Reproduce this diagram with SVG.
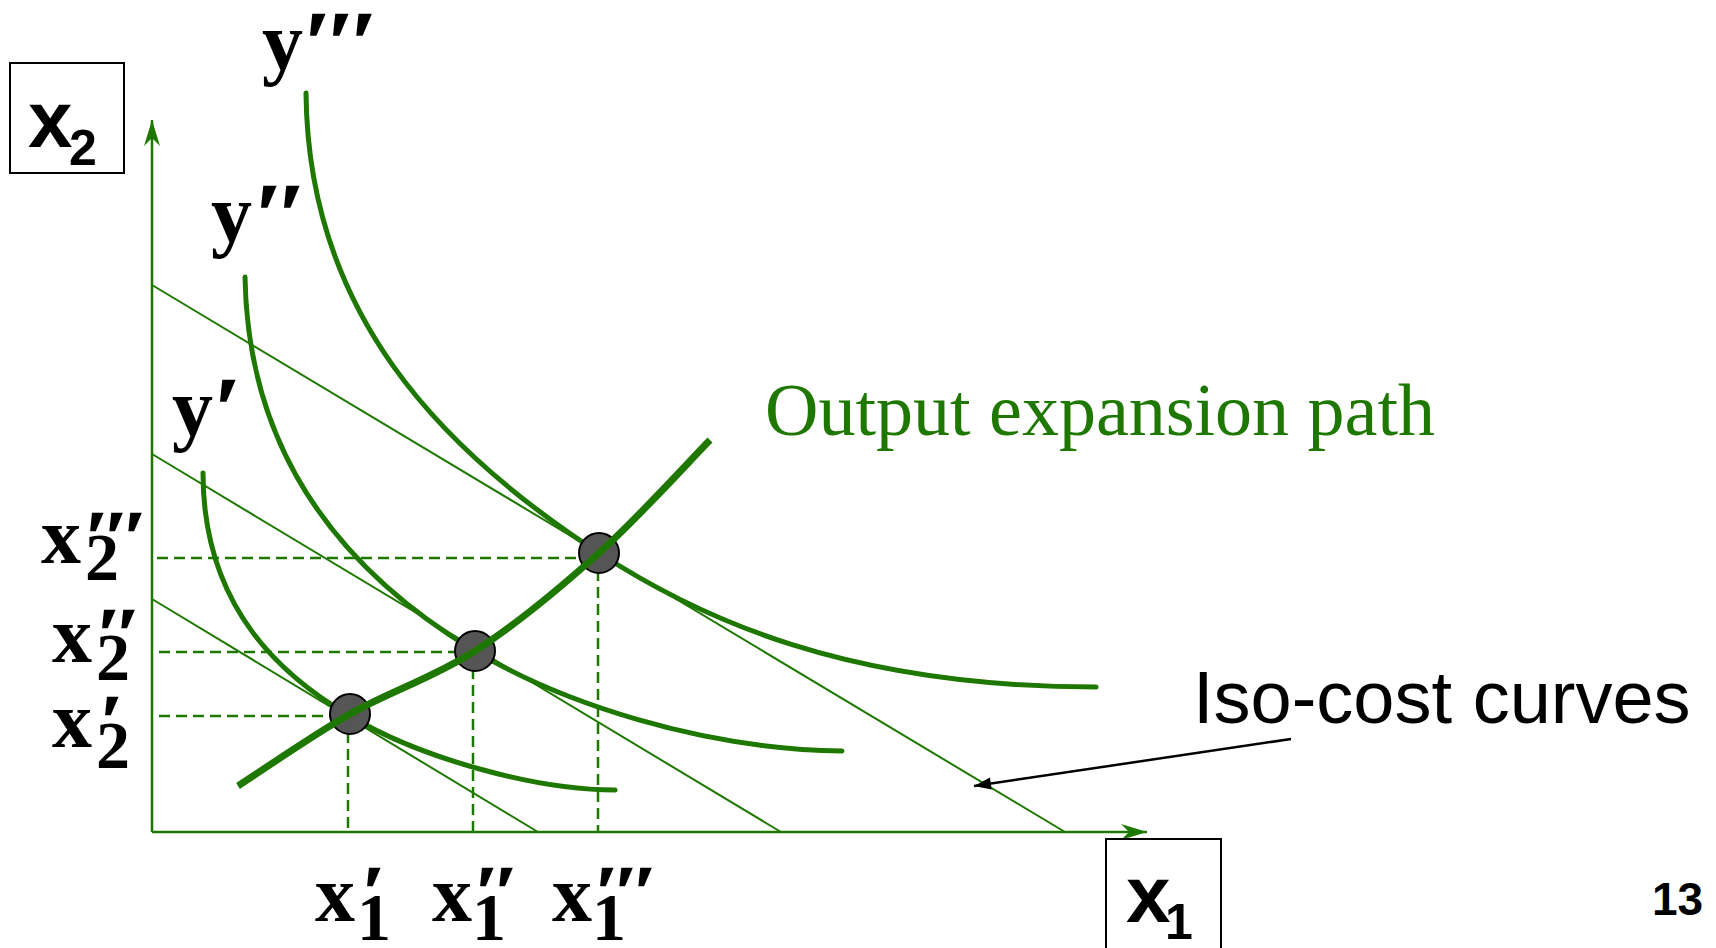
<svg xmlns="http://www.w3.org/2000/svg" width="1716" height="948" viewBox="0 0 1716 948">
<style>
.ax{stroke:#1e7800;stroke-width:2.5;fill:none}
.iso{stroke:#1e7800;stroke-width:2;fill:none}
.q{stroke:#1e7800;stroke-width:5;fill:none;stroke-linecap:round}
.ep{stroke:#1e7800;stroke-width:7;fill:none}
.dash{stroke:#1e7800;stroke-width:2.5;fill:none;stroke-dasharray:11 6}
.pt{fill:#555555;stroke:#000;stroke-width:2}
.box{fill:none;stroke:#000;stroke-width:2}
.ser{font-family:"Liberation Serif","Times New Roman",serif;font-weight:bold;fill:#000}
.pr{stroke:#000;stroke-width:2.5}
.big{font-size:80px}
.sub{font-size:68px}
.ylab{font-size:82px}
.san{font-family:"Liberation Sans",Arial,sans-serif;fill:#000}
</style>
<defs>
<marker id="ga" viewBox="-26 -9 28 18" refX="0" refY="0" markerWidth="28" markerHeight="18" markerUnits="userSpaceOnUse" orient="auto">
<path d="M0,0 L-26,-8 L-18,0 L-26,8 Z" fill="#1e7800"/>
</marker>
<marker id="ka" viewBox="-18 -8 20 16" refX="0" refY="0" markerWidth="20" markerHeight="16" markerUnits="userSpaceOnUse" orient="auto">
<path d="M0,0 L-17,-6 L-17,6 Z" fill="#000"/>
</marker>
</defs>

<g id="connectors">
<path class="ax" d="M152,832 L152,120" marker-end="url(#ga)"/>
<path class="ax" d="M152,832 L1147,832" marker-end="url(#ga)"/>
<path class="iso" d="M152,599 L538,832"/>
<path class="iso" d="M152,454 L781,832"/>
<path class="iso" d="M152,285 L1065,832"/>
<path class="dash" d="M157,558 L598,558 M598,553 L598,832"/>
<path class="dash" d="M159,652 L474,652 M473,651 L473,832"/>
<path class="dash" d="M159,716 L350,716 M348,715 L348,832"/>
<path id="yppp" class="q" d="M306,93 C308,312 439,449 599,553 C699,618 846,687 1096,687"/>
<path id="ypp" class="q" d="M245,277 C248,460 350,576 475,651 C560,702 700,749 842,751"/>
<path id="yp" class="q" d="M203,473 C203,610 285,678 350,716 C420,758 535,790 615,790"/>
<path d="M1291,739 L974,786" stroke="#000" stroke-width="2.5" fill="none" marker-end="url(#ka)"/>
</g>

<g id="points">
<circle class="pt" cx="350" cy="714" r="20"/>
<circle class="pt" cx="475" cy="651" r="20"/>
<circle class="pt" cx="599" cy="553" r="20"/>
</g>

<g id="expansion-path">
<path class="ep" d="M238,786 C256.7,774 310.5,736.5 350,714 C389.5,691.5 433.5,677.8 475,651 C516.5,624.2 559.8,588.2 599,553 C638.2,517.8 691.5,458.8 710,440"/>
<text x="765" y="435" font-family="Liberation Serif,'Times New Roman',serif" font-size="74" fill="#1e7800">Output expansion path</text>
</g>

<g id="x2-box">
<rect class="box" x="10" y="63" width="114" height="110"/>
<text class="san" x="28" y="147" font-size="80" font-weight="bold">x</text>
<text class="san" x="69" y="165" font-size="50" font-weight="bold">2</text>
</g>

<g id="x1-box">
<rect class="box" x="1106" y="839" width="115" height="112"/>
<text class="san" x="1126" y="922" font-size="80" font-weight="bold">x</text>
<text class="san" x="1165" y="939" font-size="50" font-weight="bold">1</text>
</g>

<g id="y-labels">
<text class="ser ylab" x="262" y="69">y<tspan class="pr" dx="3">′′′</tspan></text>
<text class="ser ylab" x="211" y="241">y<tspan class="pr" dx="5">′′</tspan></text>
<text class="ser ylab" x="172" y="435">y<tspan class="pr" dx="3">′</tspan></text>
</g>

<g id="x2-labels">
<text class="ser big" x="41" y="563">x</text>
<text class="ser sub" x="85" y="580">2</text>
<text class="ser sub pr" x="87" y="558">′′′</text>
<text class="ser big" x="52" y="662">x</text>
<text class="ser sub" x="96" y="680">2</text>
<text class="ser sub pr" x="99" y="655">′′</text>
<text class="ser big" x="52" y="747">x</text>
<text class="ser sub" x="96" y="768">2</text>
<text class="ser sub pr" x="102" y="742">′</text>
</g>

<g id="x1-labels">
<text class="ser big" x="315" y="921">x</text>
<text class="ser sub" x="357" y="940">1</text>
<text class="ser sub pr" x="364" y="913">′</text>
<text class="ser big" x="432" y="921">x</text>
<text class="ser sub" x="472" y="940">1</text>
<text class="ser sub pr" x="477" y="913">′′</text>
<text class="ser big" x="552" y="921">x</text>
<text class="ser sub" x="592" y="940">1</text>
<text class="ser sub pr" x="597" y="913">′′′</text>
</g>

<g id="iso-cost-label">
<text class="san" x="1193" y="723" font-size="74">Iso-cost curves</text>
</g>

<g id="page-number">
<text class="san" x="1652" y="915" font-size="46" font-weight="bold">13</text>
</g>
</svg>
